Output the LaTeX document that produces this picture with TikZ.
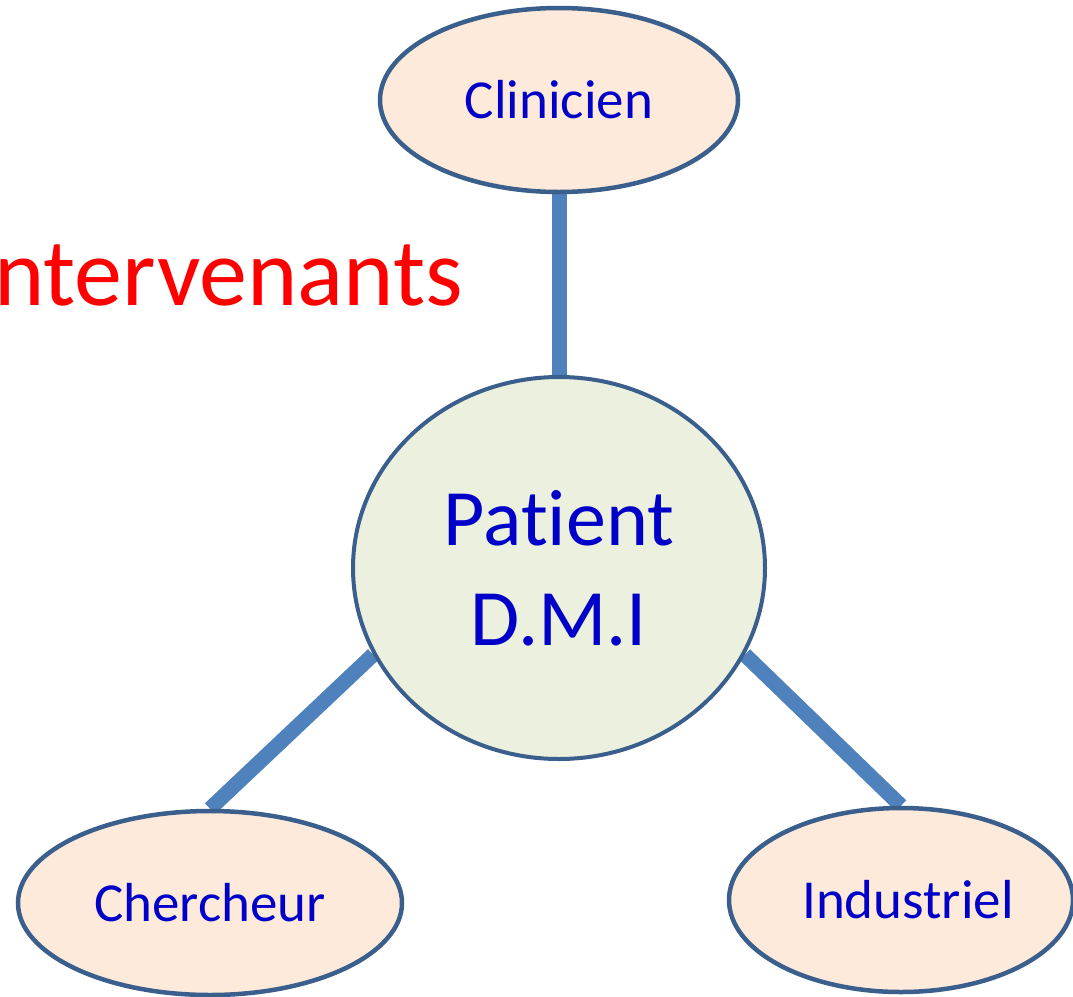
\documentclass[tikz,border=0pt]{standalone}
\usepackage{fontspec}
\setmainfont{Carlito}[RawFeature={-liga;-clig;-dlig}]
\usetikzlibrary{shapes.geometric,backgrounds}
\definecolor{edgeblue}{HTML}{4F81BD}
\definecolor{rimblue}{HTML}{3B5F8C}
\definecolor{peach}{HTML}{FDEADA}
\definecolor{sage}{HTML}{EBF1DE}
\definecolor{txtblue}{RGB}{0,0,200}
\begin{document}
\begin{tikzpicture}[x=1pt,y=-1pt,
  role/.style={ellipse,draw=rimblue,line width=4.5pt,fill=peach,inner sep=0pt,
    minimum width=#1,minimum height=184pt,text=txtblue,font=\fontsize{55}{60}\selectfont},
  hub/.style={ellipse,draw=rimblue,line width=4pt,fill=sage,inner sep=0pt,
    minimum width=412pt,minimum height=382pt,text=txtblue,align=center,
    font=\fontsize{80}{100}\selectfont},
  link/.style={draw=edgeblue,line width=15pt}]
\useasboundingbox (0,0) rectangle (1073,996);
\node[role=358pt] (clin) at (559,100) {Clinicien};
\node[role=384pt] (cher) at (210,903) {Chercheur};
\node[role=344pt] (indu) at (901,900) {\hspace*{14pt}Industriel};
\node[hub] (pat) at (559,568) {Pat\kern0pt ient\\D.M.I};
\node[anchor=base west,inner sep=0pt,text=red,font=\fontsize{96}{100}\selectfont] (titre) at (-6,305) {ntervenants};
\begin{scope}[on background layer]
\draw[link] (clin.center) -- (pat.center);
\draw[link] (cher.north) -- (pat.205);
\draw[link] (indu.north) -- (pat.335);
\end{scope}
\end{tikzpicture}
\end{document}
